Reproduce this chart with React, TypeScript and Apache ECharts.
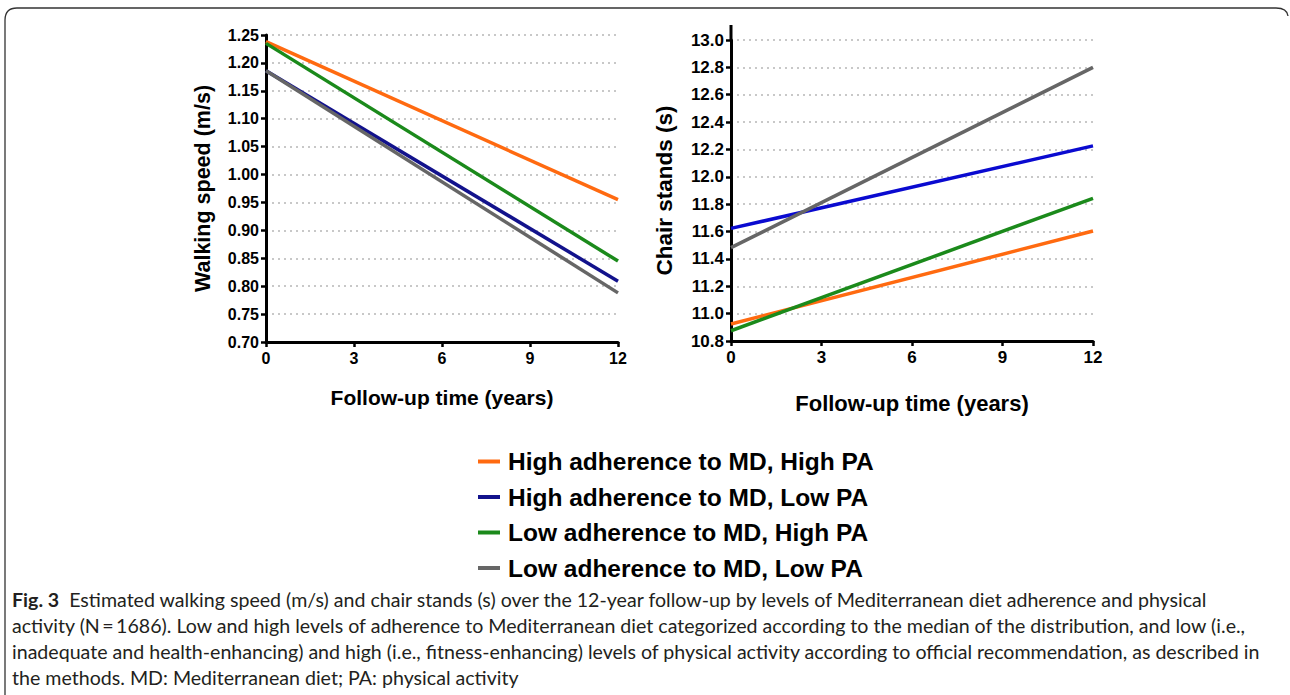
import React, { useEffect, useRef } from "react";
import * as echarts from "echarts";

// ---- data ----
const years = [0, 12];
const groups = [
  "High adherence to MD, High PA",
  "High adherence to MD, Low PA",
  "Low adherence to MD, High PA",
  "Low adherence to MD, Low PA",
];
const walkingStart = [1.238, 1.186, 1.235, 1.186];
const walkingEnd = [0.955, 0.809, 0.845, 0.788];
const chairStart = [10.924, 11.623, 10.875, 11.482];
const chairEnd = [11.604, 12.226, 11.843, 12.8];

const leftColors = ["#FF6A10", "#12128C", "#1B8A1B", "#666666"];
const rightColors = ["#FF6A10", "#0A0AD0", "#1B8A1B", "#666666"];

const walkingTicks = { min: 0.7, max: 1.25, interval: 0.05 };
const chairTicks = { min: 10.8, max: 13.0, interval: 0.2 };
const yearTicks = { min: 0, max: 12, interval: 3 };

const captionBold = "Fig. 3";
const captionLines = [
  "Estimated walking speed (m/s) and chair stands (s) over the 12-year follow-up by levels of Mediterranean diet adherence and physical",
  "activity (N\u2009=\u20091686). Low and high levels of adherence to Mediterranean diet categorized according to the median of the distribution, and low (i.e.,",
  "inadequate and health-enhancing) and high (i.e., fitness-enhancing) levels of physical activity according to official recommendation, as described in",
  "the methods. MD: Mediterranean diet; PA: physical activity",
];

echarts.graphic.registerShape(
  "frame",
  echarts.graphic.extendPath("M5,700 L5,20 Q5,8 17,8 L1276,8 Q1287,8 1288,16", {})
);

const FONT = "'Liberation Sans', Arial, sans-serif";
const CAP_FONT = "Lato, 'Liberation Sans', sans-serif";

function xAxisCfg(gridIndex: number, nameSize: number, nameGap: number, labelSize: number) {
  return {
    type: "value",
    gridIndex,
    min: yearTicks.min,
    max: yearTicks.max,
    interval: yearTicks.interval,
    name: "Follow-up time (years)",
    nameLocation: "middle",
    nameGap,
    nameTextStyle: { fontFamily: FONT, fontWeight: "bold", fontSize: nameSize, color: "#000" },
    axisLine: { show: true, onZero: false, lineStyle: { color: "#000", width: 3 } },
    axisTick: { show: true, length: 5, lineStyle: { color: "#000", width: 2.5 } },
    axisLabel: { fontFamily: FONT, fontWeight: "bold", fontSize: labelSize, color: "#000", margin: 8 },
    splitLine: { show: false },
  };
}

function yAxisCfg(
  gridIndex: number,
  ticks: { min: number; max: number; interval: number },
  name: string,
  nameSize: number,
  nameGap: number,
  labelSize: number,
  digits: number
) {
  return {
    type: "value",
    gridIndex,
    min: ticks.min,
    max: ticks.max,
    interval: ticks.interval,
    name,
    nameLocation: "middle",
    nameGap,
    nameTextStyle: { fontFamily: FONT, fontWeight: "bold", fontSize: nameSize, color: "#000" },
    axisLine: { show: true, onZero: false, lineStyle: { color: "#000", width: 3 } },
    axisTick: { show: true, length: 5, lineStyle: { color: "#000", width: 2.5 } },
    axisLabel: {
      fontFamily: FONT,
      fontWeight: "bold",
      fontSize: labelSize,
      color: "#000",
      margin: 7,
      formatter: (v: number) => v.toFixed(digits),
    },
    splitLine: { show: true, lineStyle: { color: "#c8c8c8", width: 2, type: [2, 4] } },
  };
}

export default function App() {
  const ref = useRef<HTMLDivElement>(null);
  useEffect(() => {
    if (!ref.current) return;
    const chart = echarts.init(ref.current, null, { renderer: "svg" });
    const series: any[] = [];
    groups.forEach((g, i) => {
      series.push({
        name: g,
        type: "line",
        xAxisIndex: 0,
        yAxisIndex: 0,
        data: years.map((y, k) => [y, k === 0 ? walkingStart[i] : walkingEnd[i]]),
        showSymbol: false,
        symbol: "none",
        lineStyle: { width: 3.5, color: leftColors[i] },
        itemStyle: { color: leftColors[i] },
        z: 3,
      });
    });
    groups.forEach((g, i) => {
      series.push({
        name: g,
        type: "line",
        xAxisIndex: 1,
        yAxisIndex: 1,
        data: years.map((y, k) => [y, k === 0 ? chairStart[i] : chairEnd[i]]),
        showSymbol: false,
        symbol: "none",
        lineStyle: { width: 3.5, color: rightColors[i] },
        itemStyle: { color: rightColors[i] },
        z: 3,
      });
    });

    const option: any = {
      animation: false,
      backgroundColor: "#fff",
      grid: [
        { left: 266, top: 35, width: 352, height: 307 },
        { left: 731, top: 40, width: 362, height: 301 },
      ],
      xAxis: [xAxisCfg(0, 21, 45, 16), xAxisCfg(1, 22, 51, 17)],
      yAxis: [
        yAxisCfg(0, walkingTicks, "Walking speed (m/s)", 21.5, 52, 16, 2),
        yAxisCfg(1, chairTicks, "Chair stands (s)", 22.5, 55, 17, 1),
      ],
      legend: {
        orient: "vertical",
        left: 473,
        top: 444,
        itemWidth: 22,
        itemHeight: 4,
        itemGap: 10.5,
        icon: "rect",
        selectedMode: false,
        data: groups,
        textStyle: {
          fontFamily: FONT,
          fontWeight: "bold",
          fontSize: 24.5,
          lineHeight: 24.5,
          color: "#000",
          padding: [0, 0, 0, 3],
        },
      },
      graphic: [
        {
          type: "frame",
          x: 0,
          y: 0,
          silent: true,
          style: { fill: "none", stroke: "#333", lineWidth: 1.3 },
        },
        {
          type: "line",
          silent: true,
          shape: { x1: 731, y1: 25, x2: 731, y2: 41 },
          style: { stroke: "#000", lineWidth: 3 },
        },
        ...captionLines.map((line, i) => ({
          type: "text",
          left: 12,
          top: 589 + i * 26,
          silent: true,
          style: {
            text: i === 0 ? `{b|${captionBold}}  ${line}` : line,
            fontFamily: CAP_FONT,
            fontSize: 19.6,
            fill: "#231f20",
            rich: {
              b: { fontFamily: CAP_FONT, fontWeight: "bold", fontSize: 19.6, fill: "#231f20" },
            },
          },
        })),
      ],
      series,
    };
    chart.setOption(option);
    return () => chart.dispose();
  }, []);
  return (
    <div
      ref={ref}
      style={{ position: "absolute", left: 0, top: 0, width: 1290, height: 695, background: "#fff" }}
    />
  );
}
